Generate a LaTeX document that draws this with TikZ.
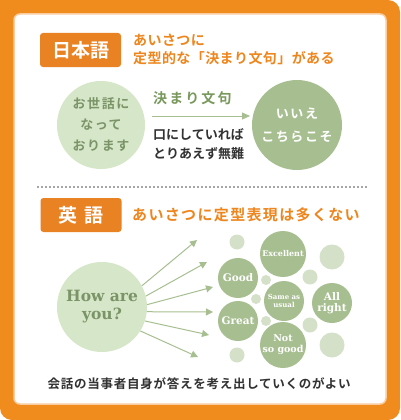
\documentclass[tikz,border=0pt]{standalone}
\usepackage{fontspec}
\setmainfont{Noto Sans CJK JP}[BoldFont={Noto Sans CJK JP Bold}]
\newfontfamily\jp{Noto Sans CJK JP}[BoldFont={Noto Sans CJK JP Bold}]
\newfontfamily\lat{DejaVu Serif}
\usetikzlibrary{arrows.meta}
\definecolor{frameor}{RGB}{240,140,30}
\definecolor{labelor}{RGB}{233,130,35}
\definecolor{titleor}{RGB}{238,134,30}
\definecolor{paleor}{RGB}{250,205,160}
\definecolor{lgreen}{RGB}{214,230,200}
\definecolor{mgreen}{RGB}{167,191,144}
\definecolor{pgreen}{RGB}{213,224,200}
\definecolor{gtext}{RGB}{122,148,104}
\definecolor{gtitle}{RGB}{120,152,92}
\definecolor{dtext}{RGB}{50,50,50}
\tikzset{
  lbl/.style={fill=labelor, rounded corners=3pt, minimum width=81pt, minimum height=34pt, text=white, font=\jp\bfseries\fontsize{19}{19}\selectfont, inner sep=0pt},
  ttl/.style={text=titleor, font=\jp\bfseries\fontsize{14}{18}\selectfont\addfontfeature{LetterSpace=3}, anchor=west, align=left, inner sep=0pt},
  bub/.style={circle, fill=mgreen, inner sep=0pt, text=white, align=center},
  pb/.style={circle, fill=pgreen, inner sep=0pt},
  arr/.style={draw=mgreen, line width=1pt, -{Triangle[length=7pt,width=7pt]}},
  darr/.style={draw=mgreen, line width=0.8pt, -{Triangle[length=8pt,width=7pt]}},
  dk/.style={text=dtext, font=\jp\bfseries\fontsize{13}{19}\selectfont, align=left, inner sep=0pt}
}
\begin{document}
\begin{tikzpicture}[x=1pt,y=-1pt]
\useasboundingbox (0,0) rectangle (400,420);
\fill[white] (0,0) rectangle (400,420);
% outer frame
\fill[frameor, rounded corners=12pt] (0,0) rectangle (400,420);
\fill[frameor] (0,0) rectangle (20,20);
\filldraw[fill=white, draw=paleor, line width=1.5pt, rounded corners=6pt] (14,14) rectangle (386,404);

% Japanese section
\node[lbl] (jlabel) at (80.5,50) {日本語};
\node[ttl] (jtitle) at (133,49) {あいさつに\\定型的な「決まり文句」がある};

\node[circle, fill=lgreen, minimum size=88pt, inner sep=0pt, text=gtext, align=center,
      font=\jp\bfseries\fontsize{13}{21}\selectfont\addfontfeature{LetterSpace=12}] (osewa) at (101,125) {お世話に\\なって\\おります};
\node[circle, fill=mgreen, minimum size=90pt, inner sep=0pt, text=white, align=center,
      font=\jp\bfseries\fontsize{13}{23}\selectfont\addfontfeature{LetterSpace=12}] (iie) at (297,125) {いいえ\\こちらこそ};
\coordinate (a1) at (152,116);
\coordinate (a2) at (250,116);
\draw[darr] (a1) -- (a2);
\node[text=gtitle, font=\jp\bfseries\fontsize{14}{14}\selectfont\addfontfeature{LetterSpace=15}, anchor=west, inner sep=0pt] (kimari) at (153,98) {決まり文句};
\node[dk, anchor=north west] (kuchi) at (153,128) {口にしていれば\\とりあえず無難};

% dashed separator
\coordinate (d1) at (37,187);
\coordinate (d2) at (367,187);
\draw[gray!70, line width=1.2pt, dash pattern=on 2pt off 2pt] (d1) -- (d2);

% English section
\node[lbl] (elabel) at (81,215) {英\hspace{8pt}語};
\node[ttl, font=\jp\bfseries\fontsize{15}{18}\selectfont\addfontfeature{LetterSpace=9}] (etitle) at (132,215) {あいさつに定型表現は多くない};

\node[circle, fill=lgreen, minimum size=90pt, inner sep=0pt, text=gtext, align=center,
      font=\lat\bfseries\fontsize{15.5}{18}\selectfont] (how) at (102,307) {How are\\you?};

% bubbles
\node[pb, minimum size=15pt] (p1) at (237,242) {};
\node[pb, minimum size=25pt] (p2) at (332,257) {};
\node[pb, minimum size=10pt] (p3) at (266,280) {};
\node[pb, minimum size=15pt] (p4) at (310,277) {};
\node[pb, minimum size=10pt] (p5) at (256,299) {};
\node[pb, minimum size=10pt] (p6) at (266,321) {};
\node[pb, minimum size=15pt] (p7) at (310,325) {};
\node[pb, minimum size=25pt] (p8) at (332,345) {};
\node[pb, minimum size=15pt] (p9) at (237,355) {};

\node[bub, minimum size=46pt, font=\lat\bfseries\fontsize{8}{9}\selectfont] (exc) at (283,254) {Excellent};
\node[bub, minimum size=40pt, font=\lat\bfseries\fontsize{10.5}{12}\selectfont] (good) at (238,278) {Good};
\node[bub, minimum size=40pt, font=\lat\bfseries\fontsize{7}{8.5}\selectfont] (same) at (284,301) {Same as\\usual};
\node[bub, minimum size=40pt, font=\lat\bfseries\fontsize{10.5}{11}\selectfont] (allr) at (332,303) {All\\right};
\node[bub, minimum size=40pt, font=\lat\bfseries\fontsize{10.5}{12}\selectfont] (great) at (238,321) {Great};
\node[bub, minimum size=46pt, font=\lat\bfseries\fontsize{9.5}{11}\selectfont] (notg) at (283,345) {Not\\so good};

% arrows
\coordinate (e1) at (197,240);
\coordinate (e2) at (207,262);
\coordinate (e3) at (213,287);
\coordinate (e4) at (213,312);
\coordinate (e5) at (209,335);
\coordinate (e6) at (198,357);
\draw[arr] (how.28) -- (e1);
\draw[arr] (how.14) -- (e2);
\draw[arr] (how.3) -- (e3);
\draw[arr] (how.-6) -- (e4);
\draw[arr] (how.-18) -- (e5);
\draw[arr] (how.-32) -- (e6);

\node[text=dtext, font=\jp\bfseries\fontsize{12.5}{14}\selectfont\addfontfeature{LetterSpace=6}, inner sep=0pt] (bottom) at (199,384) {会話の当事者自身が答えを考え出していくのがよい};
\end{tikzpicture}
\end{document}
